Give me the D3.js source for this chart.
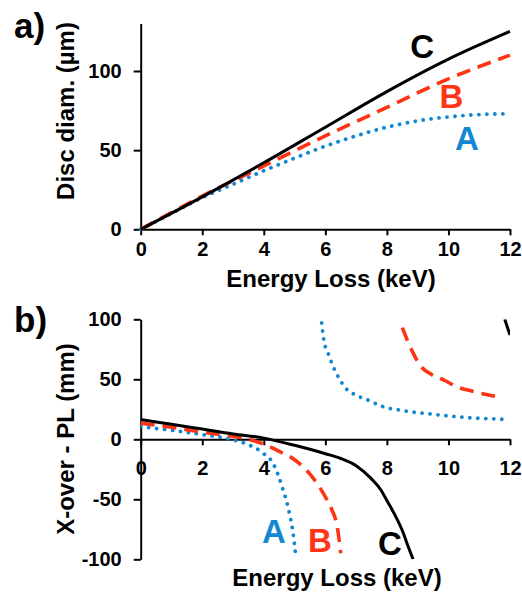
<!DOCTYPE html>
<html>
<head>
<meta charset="utf-8">
<script src="https://cdn.jsdelivr.net/npm/d3@7"></script>
<style>
  html, body { margin: 0; padding: 0; background: #fff; }
  text { font-family: "Liberation Sans", Arial, Helvetica, sans-serif; font-weight: bold; }
</style>
</head>
<body>
<svg id="chart" width="522" height="592"></svg>
<script>
// ---------- data ----------
const xTicks = [0, 2, 4, 6, 8, 10, 12];
const yTicksA = [0, 50, 100];
const yTicksB = [-100, -50, 0, 50, 100];

// Panel a: disc diameter (µm) vs energy loss (keV)
const discA = [[0,0],[1,10],[2,20],[3,28.5],[4,37],[5,45],[6,52.5],[7,59],[8,64.5],[9,68.5],[10,71],[11,72.5],[12,73]];
const discB = [[0,0],[1,10.5],[2,21],[4,40],[6,59],[8,77],[10,95],[12,110]];
const discC = [[0,0],[2,20.5],[4,42],[6,64.5],[8,87],[10,107.5],[12,125]];

// Panel b: X-over - PL (mm) vs energy loss (keV), two branches each
const xoverA_low = [[0,10.5],[1,7.5],[2,4],[3,-0.5],[3.5,-4.5],[4,-12],[4.3,-20],[4.6,-40],[4.8,-58],[4.95,-78],[5.05,-100]];
const xoverA_high = [[5.88,97],[5.95,83],[6.0,77],[6.1,71],[6.2,64],[6.3,58],[6.42,52],[6.55,46.5],[6.72,41],[6.94,37.5],[7.2,34.5],[7.45,32],[7.66,29.5],[7.9,27],[8.4,24.5],[8.9,22.5],[9.45,21],[10,19.5],[10.5,18.3],[11,17.5],[11.5,17],[11.8,16.6]];
const xoverB_low = [[0,13.5],[1,10],[2,6],[3,2.5],[3.5,0],[4,-4],[4.5,-10],[5,-17],[5.5,-29],[6,-48],[6.2,-58],[6.4,-75],[6.5,-95]];
const xoverB_high = [[8.5,93],[8.69,81],[8.85,72],[9.07,62],[9.45,54],[9.88,49],[10.3,43.5],[10.75,40.3],[11.2,37.5],[11.7,35]];
const xoverC_low = [[0,16.5],[1,12.5],[2,8.5],[3,4.5],[4,1],[5,-5],[6,-12],[6.5,-16],[7,-22],[7.5,-33],[7.8,-42],[8,-51],[8.3,-65],[8.5,-76],[8.7,-90],[8.85,-100]];
const xoverC_high = [[11.83,100],[12,87]];

const seriesNames = ["A", "B", "C"];

// ---------- styles ----------
const COLORS = { A: "#1487d2", B: "#ff3414", C: "#000000" };
const STROKES = {
  A: { width: 3.8, dash: "0.1,7.9", cap: "round" },
  B: { width: 3.6, dash: "14,8", cap: "butt" },
  C: { width: 3, dash: null, cap: "butt" }
};

const svg = d3.select("#chart");

const x = d3.scaleLinear().domain([0, 12]).range([140.7, 510]);
const yA = d3.scaleLinear().domain([0, 130]).range([229.3, 23.5]);
const yB = d3.scaleLinear().domain([-100, 100]).range([559.3, 319.3]);

const fmt = d => String(d);

function styleAxis(g) {
  g.selectAll("path.domain").attr("stroke", "#000").attr("stroke-width", 2);
  g.selectAll(".tick line").attr("stroke", "#000").attr("stroke-width", 2);
  g.selectAll(".tick text").attr("fill", "#000").style("font-size", "20px").style("font-weight", "bold")
    .style("font-family", '"Liberation Sans", Arial, sans-serif');
}

function drawSeries(g, data, name, yScale) {
  const line = d3.line().x(d => x(d[0])).y(d => yScale(d[1])).curve(d3.curveMonotoneX);
  const s = STROKES[name];
  const p = g.append("path").datum(data)
    .attr("d", line)
    .attr("fill", "none")
    .attr("stroke", COLORS[name])
    .attr("stroke-width", s.width)
    .attr("stroke-linecap", s.cap)
    .attr("stroke-linejoin", "round");
  if (s.dash) p.attr("stroke-dasharray", s.dash);
}

// ---------- panel a ----------
const gA = svg.append("g");
gA.append("g").attr("transform", `translate(0,${yA(0)})`)
  .call(d3.axisBottom(x).tickValues(xTicks).tickFormat(fmt).tickSize(6).tickSizeOuter(0).tickPadding(7))
  .call(styleAxis);
gA.append("g").attr("transform", `translate(${x(0)},0)`)
  .call(d3.axisLeft(yA).tickValues(yTicksA).tickFormat(fmt).tickSize(7).tickSizeOuter(0).tickPadding(12))
  .call(styleAxis);

drawSeries(gA, discA, "A", yA);
drawSeries(gA, discB, "B", yA);
drawSeries(gA, discC, "C", yA);

const labelsA = [
  { name: "C", x: x(9.15), y: 58 },
  { name: "B", x: x(10.1), y: 108 },
  { name: "A", x: x(10.6), y: 150 }
];
gA.selectAll("text.series").data(labelsA).enter().append("text")
  .attr("class", "series")
  .attr("x", d => d.x).attr("y", d => d.y)
  .attr("text-anchor", "middle")
  .attr("fill", d => COLORS[d.name])
  .style("font-size", "33px")
  .text(d => d.name);

gA.append("text").attr("x", 331).attr("y", 287).attr("text-anchor", "middle")
  .style("font-size", "24px").text("Energy Loss (keV)");
gA.append("text").attr("transform", "translate(74,111) rotate(-90)").attr("text-anchor", "middle")
  .style("font-size", "24px").text("Disc diam. (µm)");
gA.append("text").attr("x", 14).attr("y", 38).style("font-size", "35px").text("a)");

// ---------- panel b ----------
const gB = svg.append("g");
gB.append("defs").append("clipPath").attr("id", "clipB")
  .append("rect").attr("x", x(0)).attr("y", yB(100)).attr("width", x(12) - x(0)).attr("height", yB(-100) - yB(100));

gB.append("g").attr("transform", `translate(0,${yB(0)})`)
  .call(d3.axisBottom(x).tickValues(xTicks).tickFormat(fmt).tickSize(6).tickSizeOuter(0).tickPadding(16))
  .call(styleAxis);
gB.append("g").attr("transform", `translate(${x(0)},0)`)
  .call(d3.axisLeft(yB).tickValues(yTicksB).tickFormat(fmt).tickSize(7).tickSizeOuter(0).tickPadding(12))
  .call(styleAxis);

const plotB = gB.append("g").attr("clip-path", "url(#clipB)");
drawSeries(plotB, xoverA_low, "A", yB);
drawSeries(plotB, xoverA_high, "A", yB);
drawSeries(plotB, xoverB_low, "B", yB);
drawSeries(plotB, xoverB_high, "B", yB);
drawSeries(plotB, xoverC_low, "C", yB);
drawSeries(plotB, xoverC_high, "C", yB);

const labelsB = [
  { name: "A", x: x(4.33), y: 543 },
  { name: "B", x: x(5.82), y: 552 },
  { name: "C", x: x(8.1), y: 555 }
];
gB.selectAll("text.series").data(labelsB).enter().append("text")
  .attr("class", "series")
  .attr("x", d => d.x).attr("y", d => d.y)
  .attr("text-anchor", "middle")
  .attr("fill", d => COLORS[d.name])
  .style("font-size", "33px")
  .text(d => d.name);

gB.append("text").attr("x", 337).attr("y", 586).attr("text-anchor", "middle")
  .style("font-size", "24px").text("Energy Loss (keV)");
gB.append("text").attr("transform", "translate(74,439) rotate(-90)").attr("text-anchor", "middle")
  .style("font-size", "24px").text("X-over - PL (mm)");
gB.append("text").attr("x", 14).attr("y", 332).style("font-size", "35px").text("b)");
</script>
</body>
</html>
